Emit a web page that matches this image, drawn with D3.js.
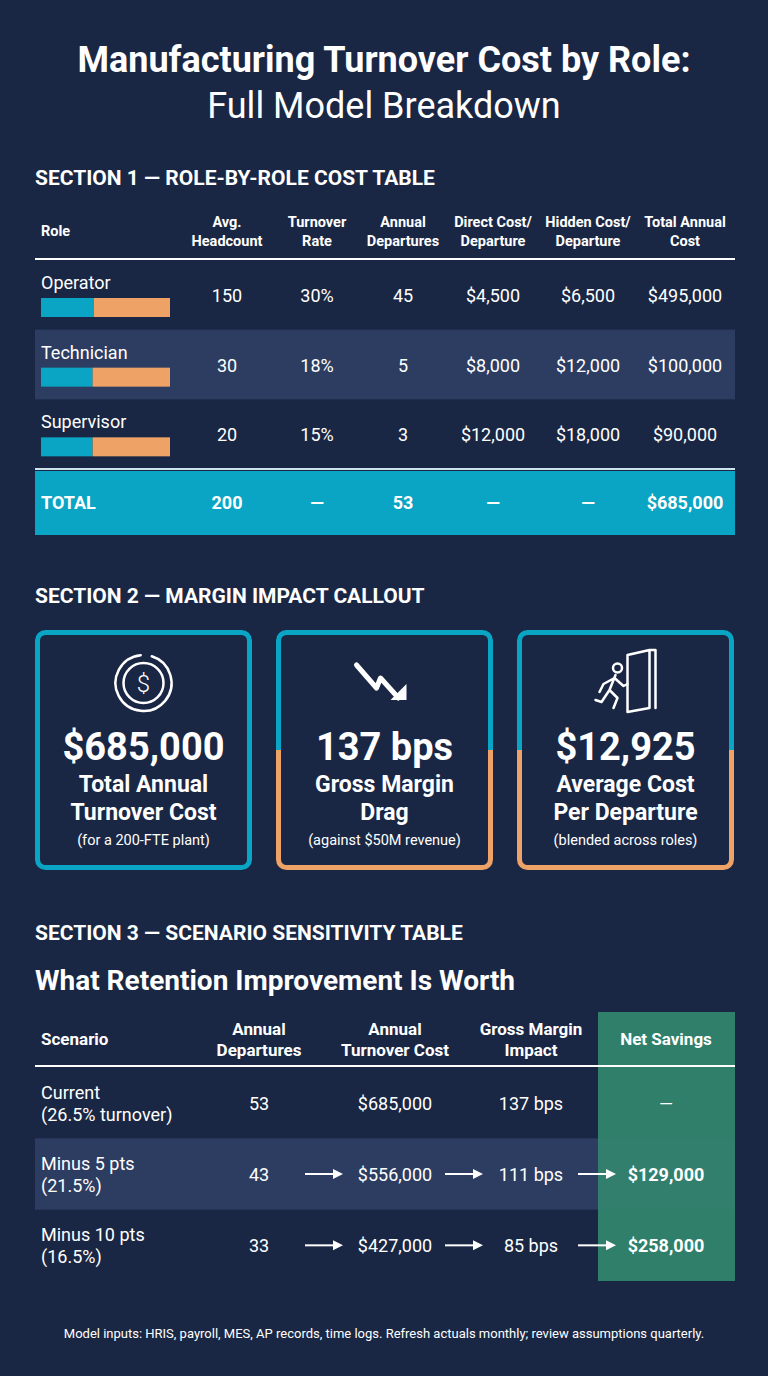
<!DOCTYPE html>
<html><head><meta charset="utf-8">
<script src="https://cdn.jsdelivr.net/npm/d3@7"></script>
<style>body{margin:0;background:#1a2744}svg{display:block}</style>
</head><body><svg id="c" width="768" height="1376"></svg>
<script>
const roles=["Operator","Technician","Supervisor"];
const headcount=[150,30,20];
const turnoverRate=["30%","18%","15%"];
const departures=[45,5,3];
const directCost=[4500,8000,12000];
const hiddenCost=[6500,12000,18000];
const totalCost=[495000,100000,90000];
const headers1=[["Role"],["Avg.","Headcount"],["Turnover","Rate"],["Annual","Departures"],["Direct Cost/","Departure"],["Hidden Cost/","Departure"],["Total Annual","Cost"]];
const totalRow=["TOTAL","200","—","53","—","—","$685,000"];
const cardValues=["$685,000","137 bps","$12,925"];
const cardLabels=[["Total Annual","Turnover Cost"],["Gross Margin","Drag"],["Average Cost","Per Departure"]];
const cardNotes=["(for a 200-FTE plant)","(against $50M revenue)","(blended across roles)"];
const scenarios=[["Current","(26.5% turnover)"],["Minus 5 pts","(21.5%)"],["Minus 10 pts","(16.5%)"]];
const scDepartures=[53,43,33];
const scCost=[685000,556000,427000];
const scBps=[137,111,85];
const scSavings=[null,129000,258000];
const headers3=[["Scenario"],["Annual","Departures"],["Annual","Turnover Cost"],["Gross Margin","Impact"],["Net Savings"]];

const svg=d3.select("#c");
const F="Roboto, 'Noto Sans', sans-serif";
const fmt=d3.format("$,");
const W="#ffffff",CY="#0aa5c4",OR="#eea266",NAVY="#1a2744",BAND="#2d3d62",GREEN="#2f7f6a";
svg.append("rect").attr("width",768).attr("height",1376).attr("fill",NAVY);
function t(x,y,s,o={}){return svg.append("text").attr("x",x).attr("y",y).text(s)
 .attr("font-family",F).attr("fill",o.fill||W).attr("font-size",o.size||16)
 .attr("font-weight",o.w||400).attr("text-anchor",o.a||"middle");}
t(384,72,"Manufacturing Turnover Cost by Role:",{size:36,w:700});
t(384,118,"Full Model Breakdown",{size:36,w:400});

// Section 1
t(35,185,"SECTION 1 — ROLE-BY-ROLE COST TABLE",{size:21,w:700,a:"start"});
const cols=[41,227,317,403,493,588,685];
headers1.forEach((h,i)=>{h.forEach((l,j)=>{
  const y=h.length===1?236:227+j*19;
  t(cols[i],y,l,{size:14.5,w:700,a:i===0?"start":"middle"});});});
svg.append("line").attr("x1",35).attr("x2",735).attr("y1",259).attr("y2",259).attr("stroke",W).attr("stroke-width",2);
const y1=d3.scaleBand().domain(roles).range([260,469]);
const bx=d3.scaleLinear().domain([0,1]).range([41,170]);
roles.forEach((r,i)=>{
  const y=y1(r),h=y1.bandwidth();
  if(i===1)svg.append("rect").attr("x",35).attr("y",y).attr("width",700).attr("height",h).attr("fill",BAND);
  t(41,y+29,r,{size:18,a:"start"});
  const share=directCost[i]/(directCost[i]+hiddenCost[i]);
  svg.append("rect").attr("x",bx(0)).attr("y",y+38).attr("width",bx(share)-bx(0)).attr("height",19).attr("fill",CY);
  svg.append("rect").attr("x",bx(share)).attr("y",y+38).attr("width",bx(1)-bx(share)).attr("height",19).attr("fill",OR);
  const vals=[headcount[i],turnoverRate[i],departures[i],fmt(directCost[i]),fmt(hiddenCost[i]),fmt(totalCost[i])];
  vals.forEach((v,k)=>t(cols[k+1],y+h/2+7,v,{size:18}));
});
svg.append("line").attr("x1",35).attr("x2",735).attr("y1",469).attr("y2",469).attr("stroke","#cfe3ee").attr("stroke-width",2);
svg.append("rect").attr("x",35).attr("y",471).attr("width",700).attr("height",64).attr("fill",CY);
totalRow.forEach((v,k)=>t(cols[k],509,v,{size:18,w:700,a:k===0?"start":"middle"}));

// Section 2
t(35,603,"SECTION 2 — MARGIN IMPACT CALLOUT",{size:21,w:700,a:"start"});
const cx=[35,276,517],cw=217;
cx.forEach((x,i)=>{
  const g=svg.append("g");
  const defsId="clipc"+i;
  if(i===0){
    g.append("rect").attr("x",x+2.5).attr("y",632.5).attr("width",cw-5).attr("height",235).attr("rx",8).attr("fill",NAVY).attr("stroke",CY).attr("stroke-width",5);
  } else {
    svg.append("clipPath").attr("id",defsId+"a").append("rect").attr("x",x-5).attr("y",620).attr("width",cw+10).attr("height",130);
    svg.append("clipPath").attr("id",defsId+"b").append("rect").attr("x",x-5).attr("y",750).attr("width",cw+10).attr("height",130);
    g.append("rect").attr("x",x+2.5).attr("y",632.5).attr("width",cw-5).attr("height",235).attr("rx",8).attr("fill",NAVY).attr("stroke",CY).attr("stroke-width",5).attr("clip-path",`url(#${defsId}a)`);
    g.append("rect").attr("x",x+2.5).attr("y",632.5).attr("width",cw-5).attr("height",235).attr("rx",8).attr("fill",NAVY).attr("stroke",OR).attr("stroke-width",5).attr("clip-path",`url(#${defsId}b)`);
  }
  const m=x+cw/2;
  t(m,760,cardValues[i],{size:38,w:700});
  cardLabels[i].forEach((l,j)=>t(m,792+j*28,l,{size:23,w:700}));
  t(m,845,cardNotes[i],{size:14.5});
  // icons
  const ic=svg.append("g").attr("fill","none").attr("stroke",W).attr("stroke-width",2.5).attr("stroke-linecap","round").attr("stroke-linejoin","round");
  if(i===0){
    ic.append("path").attr("d",d3.arc()({innerRadius:28,outerRadius:28,startAngle:0.3,endAngle:2*Math.PI-0.1})).attr("transform",`translate(${m},683)`);
    ic.append("circle").attr("cx",m).attr("cy",683).attr("r",20);
    t(m,692,"$",{size:24,w:300});
  } else if(i===1){
    ic.append("path").attr("d",`M${m-28},665 L${m-8},688 L${m-4},678 L${m+14},698`).attr("stroke-width",5);
    svg.append("path").attr("d",`M${m+22},700 L${m+6},700 L${m+22},684 Z`).attr("fill",W);
  } else {
    ic.append("path").attr("d",`M${m+2},655 L${m+24},650 L${m+24},708 L${m+2},712 Z M${m+2},655 L${m+2},690 M${m+24},650 L${m+30},650 L${m+30},708`);
    ic.append("circle").attr("cx",m-8).attr("cy",668).attr("r",4.5);
    ic.append("path").attr("d",`M${m-10},675 L${m-16},690 L${m-8},698 L${m-12},708 M${m-16},690 L${m-24},702 L${m-30},700 M${m-11},678 L${m-2},686 L${m+2},684 M${m-11},678 L${m-22},684 L${m-26},692`);
  }
});

// Section 3
t(35,940,"SECTION 3 — SCENARIO SENSITIVITY TABLE",{size:21,w:700,a:"start"});
t(35,990,"What Retention Improvement Is Worth",{size:28,w:700,a:"start"});
const c3=[41,259,395,531,666];
svg.append("rect").attr("x",598).attr("y",1012).attr("width",137).attr("height",269).attr("fill",GREEN);
const y3=d3.scaleBand().domain(scenarios.map(s=>s[0])).range([1067,1281]);
scenarios.forEach((s,i)=>{
  const y=y3(s[0]),h=y3.bandwidth();
  if(i===1){svg.append("rect").attr("x",35).attr("y",y).attr("width",563).attr("height",h).attr("fill",BAND);
    svg.append("rect").attr("x",598).attr("y",y).attr("width",137).attr("height",h).attr("fill","#327f6e");}
  s.forEach((l,j)=>t(41,y+h/2-4+j*22,l,{size:18,a:"start"}));
  const cy=y+h/2+7;
  t(c3[1],cy,scDepartures[i],{size:18});
  t(c3[2],cy,fmt(scCost[i]),{size:18});
  t(c3[3],cy,scBps[i]+" bps",{size:18});
  t(c3[4],cy,scSavings[i]==null?"—":fmt(scSavings[i]),{size:18,w:scSavings[i]==null?400:700});
  if(i>0){[[305,343],[445,483],[578,616]].forEach(([a,b])=>{
    svg.append("line").attr("x1",a).attr("x2",b-8).attr("y1",y+h/2).attr("y2",y+h/2).attr("stroke",W).attr("stroke-width",2);
    svg.append("path").attr("d",`M${b},${y+h/2} L${b-10},${y+h/2-5} L${b-10},${y+h/2+5} Z`).attr("fill",W);});}
});
headers3.forEach((h,i)=>h.forEach((l,j)=>{
  const y=h.length===1?1045:1035+j*21;
  t(c3[i],y,l,{size:17,w:700,a:i===0?"start":"middle"});}));
svg.append("line").attr("x1",35).attr("x2",735).attr("y1",1066).attr("y2",1066).attr("stroke",W).attr("stroke-width",2);
t(384,1338,"Model inputs: HRIS, payroll, MES, AP records, time logs. Refresh actuals monthly; review assumptions quarterly.",{size:13});
</script></body></html>
